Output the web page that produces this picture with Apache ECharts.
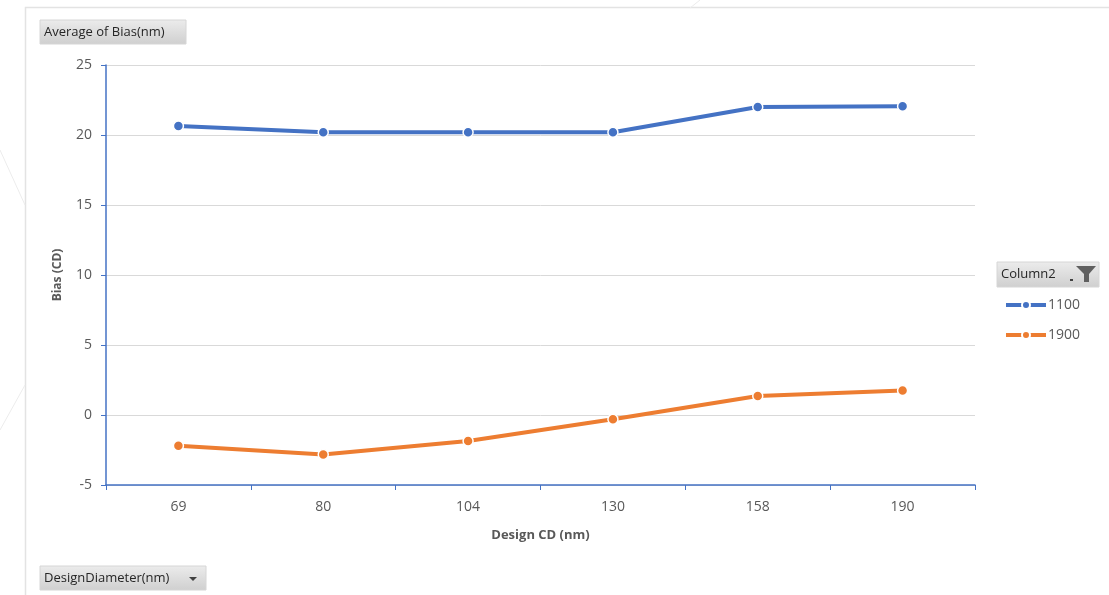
<!DOCTYPE html>
<html>
<head>
<meta charset="utf-8">
<script src="https://cdn.jsdelivr.net/npm/echarts@6/dist/echarts.min.js"></script>
<style>
html,body{margin:0;padding:0;background:#fff;}
#chart{width:1109px;height:595px;}
</style>
</head>
<body>
<div id="chart"></div>
<script>
const categories = ['69', '80', '104', '130', '158', '190'];
const seriesNames = ['1100', '1900'];
const values1100 = [20.65, 20.2, 20.2, 20.2, 22.0, 22.05];
const values1900 = [-2.2, -2.82, -1.86, -0.3, 1.35, 1.75];
const yTicks = { min: -5, max: 25, interval: 5 };

const FONT = '"Open Sans", "Liberation Sans", sans-serif';
const chart = echarts.init(document.getElementById('chart'));

function button(x, y, w, h, label, extra) {
  const children = [
    { type: 'rect', shape: { x: x, y: y, width: w, height: h },
      style: { fill: new echarts.graphic.LinearGradient(0, 0, 0, 1, [
        { offset: 0, color: '#ececec' }, { offset: 1, color: '#cfcfcf' }]),
        stroke: '#d6d6d6', lineWidth: 1 } },
    { type: 'text', x: x + 4, y: y + h / 2,
      style: { text: label, font: '13px ' + FONT, fill: '#262626', verticalAlign: 'middle' } }
  ];
  return children.concat(extra || []);
}

const markerStyle = (c) => ({ color: c, borderColor: '#ffffff', borderWidth: 1.5 });

chart.setOption({
  animation: false,
  backgroundColor: '#ffffff',
  grid: { left: 106, right: 134, top: 65, bottom: 110 },
  legend: {
    orient: 'vertical', left: 999, top: 293, itemGap: 16,
    itemWidth: 40, itemHeight: 10,
    lineStyle: { width: 4 },
    textStyle: { color: '#595959', fontSize: 14, fontFamily: FONT, padding: [0, 0, 0, -3] },
    data: seriesNames
  },
  xAxis: {
    type: 'category', data: categories, boundaryGap: true,
    name: 'Design CD (nm)', nameLocation: 'middle', nameGap: 44,
    nameTextStyle: { color: '#595959', fontSize: 13, fontWeight: 'bold', fontFamily: FONT },
    axisLine: { onZero: false, lineStyle: { color: '#4472C4', width: 1.5 } },
    axisTick: { show: true, alignWithLabel: false, length: 5, lineStyle: { color: '#4472C4' } },
    axisLabel: { color: '#595959', fontSize: 14, fontFamily: FONT, margin: 15 }
  },
  yAxis: {
    type: 'value', min: yTicks.min, max: yTicks.max, interval: yTicks.interval,
    name: 'Bias (CD)', nameLocation: 'middle', nameGap: 42,
    nameTextStyle: { color: '#595959', fontSize: 12, fontWeight: 'bold', fontFamily: FONT },
    axisLine: { show: true, lineStyle: { color: '#4472C4', width: 1.5 } },
    axisTick: { show: true, length: 5, lineStyle: { color: '#4472C4' } },
    axisLabel: { color: '#595959', fontSize: 14, fontFamily: FONT, margin: 14 },
    splitLine: { lineStyle: { color: '#d9d9d9', width: 1 } }
  },
  series: [
    { name: seriesNames[0], type: 'line', data: values1100, symbol: 'circle', symbolSize: 10,
      lineStyle: { color: '#4472C4', width: 4 }, itemStyle: markerStyle('#4472C4') },
    { name: seriesNames[1], type: 'line', data: values1900, symbol: 'circle', symbolSize: 10,
      lineStyle: { color: '#ED7D31', width: 4 }, itemStyle: markerStyle('#ED7D31') }
  ],
  graphic: [
    { type: 'group', silent: true, children: [
      { type: 'rect', shape: { x: 25.5, y: 7.5, width: 1100, height: 600 },
        style: { fill: 'none', stroke: '#e3e3e3', lineWidth: 1.5 } },
      { type: 'line', shape: { x1: 0, y1: 150, x2: 25, y2: 205 }, style: { stroke: '#ececec', lineWidth: 1 } },
      { type: 'line', shape: { x1: 0, y1: 430, x2: 25, y2: 385 }, style: { stroke: '#ececec', lineWidth: 1 } },
      { type: 'line', shape: { x1: 690, y1: 8, x2: 700, y2: 0 }, style: { stroke: '#ececec', lineWidth: 1 } }
    ].concat(
      button(40, 20, 146, 24, 'Average of Bias(nm)'),
      button(40, 566, 166, 24, 'DesignDiameter(nm)', [
        { type: 'polygon', shape: { points: [[189, 577], [197, 577], [193, 581]] }, style: { fill: '#404040' } }
      ]),
      button(997, 262, 102, 25, 'Column2', [
        { type: 'rect', shape: { x: 1070, y: 279, width: 3, height: 2 }, style: { fill: '#404040' } },
        { type: 'polygon', shape: { points: [[1076, 266], [1096, 266], [1089, 274], [1089, 282], [1084, 282], [1084, 274]] }, style: { fill: '#606060' } }
      ])
    ) }
  ]
});
</script>
</body>
</html>
